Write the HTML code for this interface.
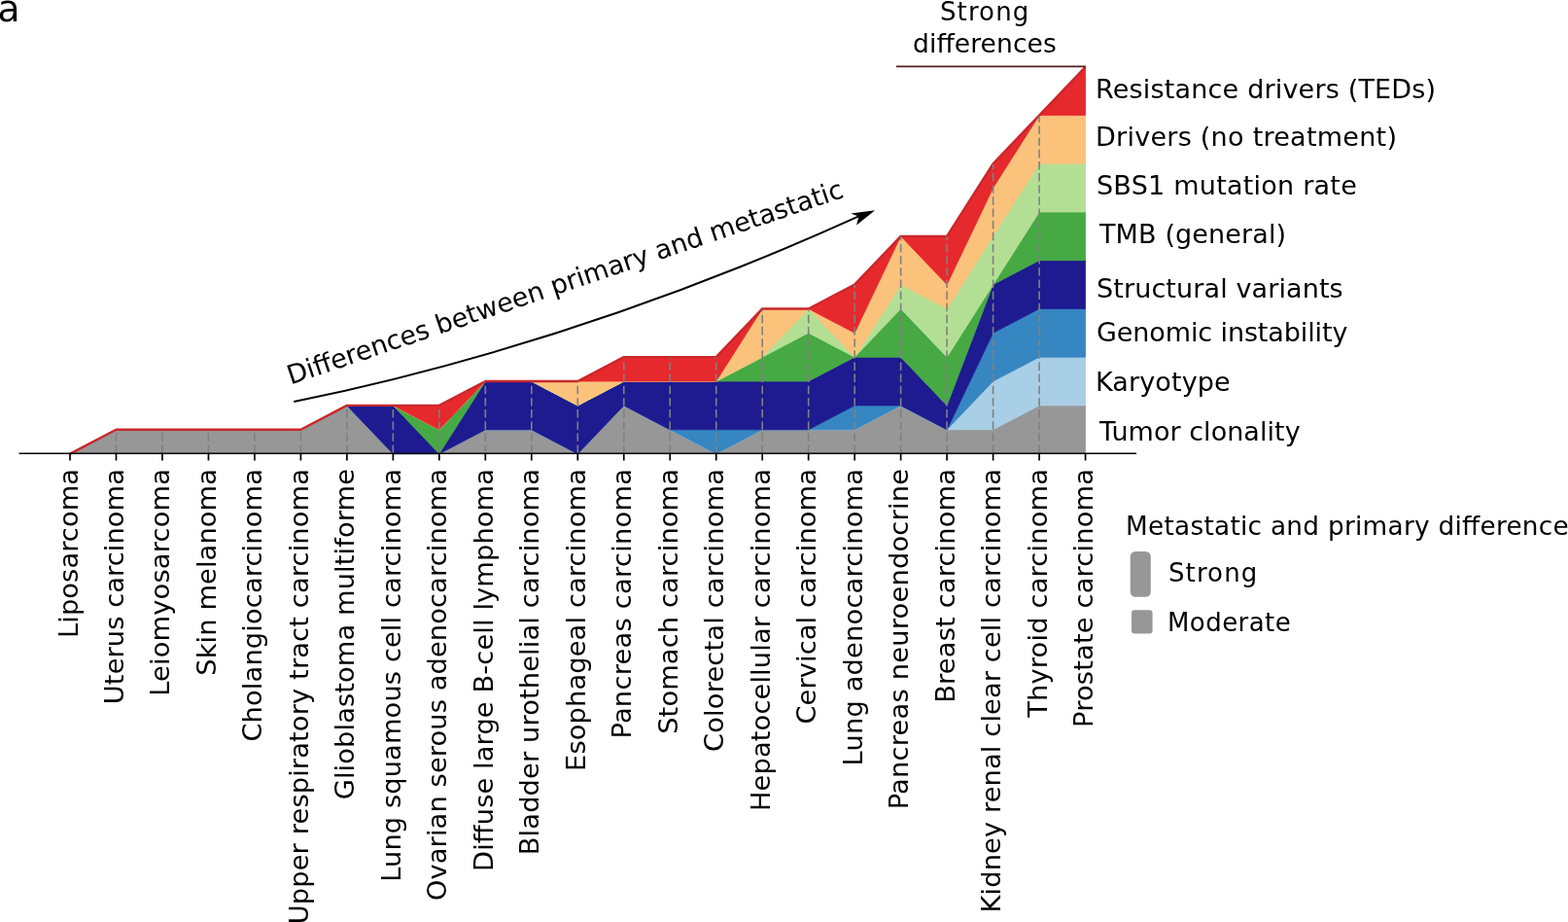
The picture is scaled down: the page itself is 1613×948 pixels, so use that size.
<!DOCTYPE html>
<html><head><meta charset="utf-8"><title>Metastatic vs primary differences</title>
<style>html,body{margin:0;padding:0;background:#fff;overflow:hidden}svg{display:block}text{font-family:'DejaVu Sans', Verdana, sans-serif}</style>
</head><body>
<svg width="1613" height="948" viewBox="0 0 1613 948" font-family="'DejaVu Sans', Verdana, sans-serif" fill="#000">
<polygon points="72.00,466.60 119.48,441.74 166.96,441.74 214.44,441.74 261.92,441.74 309.40,441.74 356.88,416.88 404.36,466.60 451.84,466.60 499.32,441.74 546.80,441.74 594.28,466.60 641.76,416.88 689.24,441.74 736.72,466.60 784.20,441.74 831.68,441.74 879.16,441.74 926.64,416.88 974.12,441.74 1021.60,441.74 1069.08,416.88 1116.56,416.88 1116.56,466.60 1069.08,466.60 1021.60,466.60 974.12,466.60 926.64,466.60 879.16,466.60 831.68,466.60 784.20,466.60 736.72,466.60 689.24,466.60 641.76,466.60 594.28,466.60 546.80,466.60 499.32,466.60 451.84,466.60 404.36,466.60 356.88,466.60 309.40,466.60 261.92,466.60 214.44,466.60 166.96,466.60 119.48,466.60 72.00,466.60" fill="#979797" stroke="#979797" stroke-width="0.8" stroke-linejoin="round"/>
<polygon points="72.00,466.60 119.48,441.74 166.96,441.74 214.44,441.74 261.92,441.74 309.40,441.74 356.88,416.88 404.36,466.60 451.84,466.60 499.32,441.74 546.80,441.74 594.28,466.60 641.76,416.88 689.24,441.74 736.72,466.60 784.20,441.74 831.68,441.74 879.16,441.74 926.64,416.88 974.12,441.74 1021.60,392.02 1069.08,367.16 1116.56,367.16 1116.56,416.88 1069.08,416.88 1021.60,441.74 974.12,441.74 926.64,416.88 879.16,441.74 831.68,441.74 784.20,441.74 736.72,466.60 689.24,441.74 641.76,416.88 594.28,466.60 546.80,441.74 499.32,441.74 451.84,466.60 404.36,466.60 356.88,416.88 309.40,441.74 261.92,441.74 214.44,441.74 166.96,441.74 119.48,441.74 72.00,466.60" fill="#a9cfe6" stroke="#a9cfe6" stroke-width="0.8" stroke-linejoin="round"/>
<polygon points="72.00,466.60 119.48,441.74 166.96,441.74 214.44,441.74 261.92,441.74 309.40,441.74 356.88,416.88 404.36,466.60 451.84,466.60 499.32,441.74 546.80,441.74 594.28,466.60 641.76,416.88 689.24,441.74 736.72,441.74 784.20,441.74 831.68,441.74 879.16,416.88 926.64,416.88 974.12,441.74 1021.60,342.30 1069.08,317.44 1116.56,317.44 1116.56,367.16 1069.08,367.16 1021.60,392.02 974.12,441.74 926.64,416.88 879.16,441.74 831.68,441.74 784.20,441.74 736.72,466.60 689.24,441.74 641.76,416.88 594.28,466.60 546.80,441.74 499.32,441.74 451.84,466.60 404.36,466.60 356.88,416.88 309.40,441.74 261.92,441.74 214.44,441.74 166.96,441.74 119.48,441.74 72.00,466.60" fill="#3686c2" stroke="#3686c2" stroke-width="0.8" stroke-linejoin="round"/>
<polygon points="72.00,466.60 119.48,441.74 166.96,441.74 214.44,441.74 261.92,441.74 309.40,441.74 356.88,416.88 404.36,416.88 451.84,466.60 499.32,392.02 546.80,392.02 594.28,416.88 641.76,392.02 689.24,392.02 736.72,392.02 784.20,392.02 831.68,392.02 879.16,367.16 926.64,367.16 974.12,416.88 1021.60,292.58 1069.08,267.72 1116.56,267.72 1116.56,317.44 1069.08,317.44 1021.60,342.30 974.12,441.74 926.64,416.88 879.16,416.88 831.68,441.74 784.20,441.74 736.72,441.74 689.24,441.74 641.76,416.88 594.28,466.60 546.80,441.74 499.32,441.74 451.84,466.60 404.36,466.60 356.88,416.88 309.40,441.74 261.92,441.74 214.44,441.74 166.96,441.74 119.48,441.74 72.00,466.60" fill="#1e1a90" stroke="#1e1a90" stroke-width="0.8" stroke-linejoin="round"/>
<polygon points="72.00,466.60 119.48,441.74 166.96,441.74 214.44,441.74 261.92,441.74 309.40,441.74 356.88,416.88 404.36,416.88 451.84,441.74 499.32,392.02 546.80,392.02 594.28,416.88 641.76,392.02 689.24,392.02 736.72,392.02 784.20,367.16 831.68,342.30 879.16,367.16 926.64,317.44 974.12,367.16 1021.60,292.58 1069.08,218.00 1116.56,218.00 1116.56,267.72 1069.08,267.72 1021.60,292.58 974.12,416.88 926.64,367.16 879.16,367.16 831.68,392.02 784.20,392.02 736.72,392.02 689.24,392.02 641.76,392.02 594.28,416.88 546.80,392.02 499.32,392.02 451.84,466.60 404.36,416.88 356.88,416.88 309.40,441.74 261.92,441.74 214.44,441.74 166.96,441.74 119.48,441.74 72.00,466.60" fill="#46a944" stroke="#46a944" stroke-width="0.8" stroke-linejoin="round"/>
<polygon points="72.00,466.60 119.48,441.74 166.96,441.74 214.44,441.74 261.92,441.74 309.40,441.74 356.88,416.88 404.36,416.88 451.84,441.74 499.32,392.02 546.80,392.02 594.28,416.88 641.76,392.02 689.24,392.02 736.72,392.02 784.20,367.16 831.68,317.44 879.16,367.16 926.64,292.58 974.12,317.44 1021.60,242.86 1069.08,168.28 1116.56,168.28 1116.56,218.00 1069.08,218.00 1021.60,292.58 974.12,367.16 926.64,317.44 879.16,367.16 831.68,342.30 784.20,367.16 736.72,392.02 689.24,392.02 641.76,392.02 594.28,416.88 546.80,392.02 499.32,392.02 451.84,441.74 404.36,416.88 356.88,416.88 309.40,441.74 261.92,441.74 214.44,441.74 166.96,441.74 119.48,441.74 72.00,466.60" fill="#b3df94" stroke="#b3df94" stroke-width="0.8" stroke-linejoin="round"/>
<polygon points="72.00,466.60 119.48,441.74 166.96,441.74 214.44,441.74 261.92,441.74 309.40,441.74 356.88,416.88 404.36,416.88 451.84,441.74 499.32,392.02 546.80,392.02 594.28,392.02 641.76,392.02 689.24,392.02 736.72,392.02 784.20,317.44 831.68,317.44 879.16,342.30 926.64,242.86 974.12,292.58 1021.60,193.14 1069.08,118.56 1116.56,118.56 1116.56,168.28 1069.08,168.28 1021.60,242.86 974.12,317.44 926.64,292.58 879.16,367.16 831.68,317.44 784.20,367.16 736.72,392.02 689.24,392.02 641.76,392.02 594.28,416.88 546.80,392.02 499.32,392.02 451.84,441.74 404.36,416.88 356.88,416.88 309.40,441.74 261.92,441.74 214.44,441.74 166.96,441.74 119.48,441.74 72.00,466.60" fill="#fbc27c" stroke="#fbc27c" stroke-width="0.8" stroke-linejoin="round"/>
<polygon points="72.00,466.60 119.48,441.74 166.96,441.74 214.44,441.74 261.92,441.74 309.40,441.74 356.88,416.88 404.36,416.88 451.84,416.88 499.32,392.02 546.80,392.02 594.28,392.02 641.76,367.16 689.24,367.16 736.72,367.16 784.20,317.44 831.68,317.44 879.16,292.58 926.64,242.86 974.12,242.86 1021.60,168.28 1069.08,118.56 1116.56,68.84 1116.56,118.56 1069.08,118.56 1021.60,193.14 974.12,292.58 926.64,242.86 879.16,342.30 831.68,317.44 784.20,317.44 736.72,392.02 689.24,392.02 641.76,392.02 594.28,392.02 546.80,392.02 499.32,392.02 451.84,441.74 404.36,416.88 356.88,416.88 309.40,441.74 261.92,441.74 214.44,441.74 166.96,441.74 119.48,441.74 72.00,466.60" fill="#e6292c" stroke="#e6292c" stroke-width="0.8" stroke-linejoin="round"/>
<polyline points="72.00,466.60 119.48,441.74 166.96,441.74 214.44,441.74 261.92,441.74 309.40,441.74 356.88,416.88 404.36,416.88 451.84,416.88 499.32,392.02 546.80,392.02 594.28,392.02 641.76,367.16 689.24,367.16 736.72,367.16 784.20,317.44 831.68,317.44 879.16,292.58 926.64,242.86 974.12,242.86 1021.60,168.28 1069.08,118.56 1116.56,68.84" fill="none" stroke="#c9272c" stroke-width="2.4" stroke-linejoin="round"/>
<line x1="119.48" y1="466.0" x2="119.48" y2="442.24" stroke="#808080" stroke-width="1.6" stroke-dasharray="8.5 3.65"/>
<line x1="166.96" y1="466.0" x2="166.96" y2="442.24" stroke="#808080" stroke-width="1.6" stroke-dasharray="8.5 3.65"/>
<line x1="214.44" y1="466.0" x2="214.44" y2="442.24" stroke="#808080" stroke-width="1.6" stroke-dasharray="8.5 3.65"/>
<line x1="261.92" y1="466.0" x2="261.92" y2="442.24" stroke="#808080" stroke-width="1.6" stroke-dasharray="8.5 3.65"/>
<line x1="309.40" y1="466.0" x2="309.40" y2="442.24" stroke="#808080" stroke-width="1.6" stroke-dasharray="8.5 3.65"/>
<line x1="356.88" y1="466.0" x2="356.88" y2="417.38" stroke="#808080" stroke-width="1.6" stroke-dasharray="8.5 3.65"/>
<line x1="404.36" y1="466.0" x2="404.36" y2="417.38" stroke="#808080" stroke-width="1.6" stroke-dasharray="8.5 3.65"/>
<line x1="451.84" y1="466.0" x2="451.84" y2="417.38" stroke="#808080" stroke-width="1.6" stroke-dasharray="8.5 3.65"/>
<line x1="499.32" y1="466.0" x2="499.32" y2="392.52" stroke="#808080" stroke-width="1.6" stroke-dasharray="8.5 3.65"/>
<line x1="546.80" y1="466.0" x2="546.80" y2="392.52" stroke="#808080" stroke-width="1.6" stroke-dasharray="8.5 3.65"/>
<line x1="594.28" y1="466.0" x2="594.28" y2="392.52" stroke="#808080" stroke-width="1.6" stroke-dasharray="8.5 3.65"/>
<line x1="641.76" y1="466.0" x2="641.76" y2="367.66" stroke="#808080" stroke-width="1.6" stroke-dasharray="8.5 3.65"/>
<line x1="689.24" y1="466.0" x2="689.24" y2="367.66" stroke="#808080" stroke-width="1.6" stroke-dasharray="8.5 3.65"/>
<line x1="736.72" y1="466.0" x2="736.72" y2="367.66" stroke="#808080" stroke-width="1.6" stroke-dasharray="8.5 3.65"/>
<line x1="784.20" y1="466.0" x2="784.20" y2="317.94" stroke="#808080" stroke-width="1.6" stroke-dasharray="8.5 3.65"/>
<line x1="831.68" y1="466.0" x2="831.68" y2="317.94" stroke="#808080" stroke-width="1.6" stroke-dasharray="8.5 3.65"/>
<line x1="879.16" y1="466.0" x2="879.16" y2="293.08" stroke="#808080" stroke-width="1.6" stroke-dasharray="8.5 3.65"/>
<line x1="926.64" y1="466.0" x2="926.64" y2="243.36" stroke="#808080" stroke-width="1.6" stroke-dasharray="8.5 3.65"/>
<line x1="974.12" y1="466.0" x2="974.12" y2="243.36" stroke="#808080" stroke-width="1.6" stroke-dasharray="8.5 3.65"/>
<line x1="1021.60" y1="466.0" x2="1021.60" y2="168.78" stroke="#808080" stroke-width="1.6" stroke-dasharray="8.5 3.65"/>
<line x1="1069.08" y1="466.0" x2="1069.08" y2="119.06" stroke="#808080" stroke-width="1.6" stroke-dasharray="8.5 3.65"/>
<line x1="19.5" y1="466.2" x2="1169" y2="466.2" stroke="#000" stroke-width="1.6"/>
<line x1="72.00" y1="466" x2="72.00" y2="473.5" stroke="#000" stroke-width="1.7"/>
<line x1="119.48" y1="466" x2="119.48" y2="473.5" stroke="#000" stroke-width="1.7"/>
<line x1="166.96" y1="466" x2="166.96" y2="473.5" stroke="#000" stroke-width="1.7"/>
<line x1="214.44" y1="466" x2="214.44" y2="473.5" stroke="#000" stroke-width="1.7"/>
<line x1="261.92" y1="466" x2="261.92" y2="473.5" stroke="#000" stroke-width="1.7"/>
<line x1="309.40" y1="466" x2="309.40" y2="473.5" stroke="#000" stroke-width="1.7"/>
<line x1="356.88" y1="466" x2="356.88" y2="473.5" stroke="#000" stroke-width="1.7"/>
<line x1="404.36" y1="466" x2="404.36" y2="473.5" stroke="#000" stroke-width="1.7"/>
<line x1="451.84" y1="466" x2="451.84" y2="473.5" stroke="#000" stroke-width="1.7"/>
<line x1="499.32" y1="466" x2="499.32" y2="473.5" stroke="#000" stroke-width="1.7"/>
<line x1="546.80" y1="466" x2="546.80" y2="473.5" stroke="#000" stroke-width="1.7"/>
<line x1="594.28" y1="466" x2="594.28" y2="473.5" stroke="#000" stroke-width="1.7"/>
<line x1="641.76" y1="466" x2="641.76" y2="473.5" stroke="#000" stroke-width="1.7"/>
<line x1="689.24" y1="466" x2="689.24" y2="473.5" stroke="#000" stroke-width="1.7"/>
<line x1="736.72" y1="466" x2="736.72" y2="473.5" stroke="#000" stroke-width="1.7"/>
<line x1="784.20" y1="466" x2="784.20" y2="473.5" stroke="#000" stroke-width="1.7"/>
<line x1="831.68" y1="466" x2="831.68" y2="473.5" stroke="#000" stroke-width="1.7"/>
<line x1="879.16" y1="466" x2="879.16" y2="473.5" stroke="#000" stroke-width="1.7"/>
<line x1="926.64" y1="466" x2="926.64" y2="473.5" stroke="#000" stroke-width="1.7"/>
<line x1="974.12" y1="466" x2="974.12" y2="473.5" stroke="#000" stroke-width="1.7"/>
<line x1="1021.60" y1="466" x2="1021.60" y2="473.5" stroke="#000" stroke-width="1.7"/>
<line x1="1069.08" y1="466" x2="1069.08" y2="473.5" stroke="#000" stroke-width="1.7"/>
<line x1="1116.56" y1="466" x2="1116.56" y2="473.5" stroke="#000" stroke-width="1.7"/>
<text transform="translate(79.50,482.00) rotate(-90)" text-anchor="end" font-size="27.3" textLength="173.92" lengthAdjust="spacing">Liposarcoma</text>
<text transform="translate(126.98,482.00) rotate(-90)" text-anchor="end" font-size="27.3" textLength="242.17" lengthAdjust="spacing">Uterus carcinoma</text>
<text transform="translate(174.46,482.00) rotate(-90)" text-anchor="end" font-size="27.3" textLength="233.86" lengthAdjust="spacing">Leiomyosarcoma</text>
<text transform="translate(221.94,482.00) rotate(-90)" text-anchor="end" font-size="27.3" textLength="212.72" lengthAdjust="spacing">Skin melanoma</text>
<text transform="translate(269.42,482.00) rotate(-90)" text-anchor="end" font-size="27.3" textLength="280.56" lengthAdjust="spacing">Cholangiocarcinoma</text>
<text transform="translate(316.90,482.00) rotate(-90)" text-anchor="end" font-size="27.3" textLength="468.26" lengthAdjust="spacing">Upper respiratory tract carcinoma</text>
<text transform="translate(364.38,482.00) rotate(-90)" text-anchor="end" font-size="27.3" textLength="340.28" lengthAdjust="spacing">Glioblastoma multiforme</text>
<text transform="translate(411.86,482.00) rotate(-90)" text-anchor="end" font-size="27.3" textLength="424.83" lengthAdjust="spacing">Lung squamous cell carcinoma</text>
<text transform="translate(459.34,482.00) rotate(-90)" text-anchor="end" font-size="27.3" textLength="444.05" lengthAdjust="spacing">Ovarian serous adenocarcinoma</text>
<text transform="translate(506.82,482.00) rotate(-90)" text-anchor="end" font-size="27.3" textLength="413.95" lengthAdjust="spacing">Diffuse large B-cell lymphoma</text>
<text transform="translate(554.30,482.00) rotate(-90)" text-anchor="end" font-size="27.3" textLength="397.23" lengthAdjust="spacing">Bladder urothelial carcinoma</text>
<text transform="translate(601.78,482.00) rotate(-90)" text-anchor="end" font-size="27.3" textLength="310.91" lengthAdjust="spacing">Esophageal carcinoma</text>
<text transform="translate(649.26,482.00) rotate(-90)" text-anchor="end" font-size="27.3" textLength="277.59" lengthAdjust="spacing">Pancreas carcinoma</text>
<text transform="translate(696.74,482.00) rotate(-90)" text-anchor="end" font-size="27.3" textLength="272.81" lengthAdjust="spacing">Stomach carcinoma</text>
<text transform="translate(744.22,482.00) rotate(-90)" text-anchor="end" font-size="27.3" textLength="290.94" lengthAdjust="spacing">Colorectal carcinoma</text>
<text transform="translate(791.70,482.00) rotate(-90)" text-anchor="end" font-size="27.3" textLength="352.03" lengthAdjust="spacing">Hepatocellular carcinoma</text>
<text transform="translate(839.18,482.00) rotate(-90)" text-anchor="end" font-size="27.3" textLength="262.59" lengthAdjust="spacing">Cervical carcinoma</text>
<text transform="translate(886.66,482.00) rotate(-90)" text-anchor="end" font-size="27.3" textLength="305.45" lengthAdjust="spacing">Lung adenocarcinoma</text>
<text transform="translate(934.14,482.00) rotate(-90)" text-anchor="end" font-size="27.3" textLength="350.36" lengthAdjust="spacing">Pancreas neuroendocrine</text>
<text transform="translate(981.62,482.00) rotate(-90)" text-anchor="end" font-size="27.3" textLength="240.75" lengthAdjust="spacing">Breast carcinoma</text>
<text transform="translate(1029.10,482.00) rotate(-90)" text-anchor="end" font-size="27.3" textLength="456.38" lengthAdjust="spacing">Kidney renal clear cell carcinoma</text>
<text transform="translate(1076.58,482.00) rotate(-90)" text-anchor="end" font-size="27.3" textLength="255.81" lengthAdjust="spacing">Thyroid carcinoma</text>
<text transform="translate(1124.06,482.00) rotate(-90)" text-anchor="end" font-size="27.3" textLength="265.91" lengthAdjust="spacing">Prostate carcinoma</text>
<text x="1127.00" y="100.70" font-size="27" textLength="350.14" lengthAdjust="spacing">Resistance drivers (TEDs)</text>
<text x="1127.00" y="150.40" font-size="27" textLength="309.97" lengthAdjust="spacing">Drivers (no treatment)</text>
<text x="1128.00" y="200.20" font-size="27" textLength="267.78" lengthAdjust="spacing">SBS1 mutation rate</text>
<text x="1131.00" y="250.20" font-size="27" textLength="192.09" lengthAdjust="spacing">TMB (general)</text>
<text x="1128.00" y="305.70" font-size="27" textLength="253.66" lengthAdjust="spacing">Structural variants</text>
<text x="1128.00" y="351.20" font-size="27" textLength="258.42" lengthAdjust="spacing">Genomic instability</text>
<text x="1127.00" y="401.90" font-size="27" textLength="138.70" lengthAdjust="spacing">Karyotype</text>
<text x="1131.00" y="452.50" font-size="27" textLength="206.61" lengthAdjust="spacing">Tumor clonality</text>
<text x="967.00" y="20.60" font-size="26" textLength="91.22" lengthAdjust="spacing">Strong</text>
<text x="939.00" y="54.30" font-size="26.5" textLength="147.84" lengthAdjust="spacing">differences</text>
<text x="1158.00" y="550.20" font-size="26.3" textLength="455.74" lengthAdjust="spacing">Metastatic and primary difference</text>
<text x="1202.00" y="597.50" font-size="26" textLength="91.22" lengthAdjust="spacing">Strong</text>
<text x="1201.00" y="649.00" font-size="26" textLength="126.66" lengthAdjust="spacing">Moderate</text>
<line x1="922" y1="68.4" x2="1116.8" y2="68.4" stroke="#531a1f" stroke-width="1.6"/>
<text x="-2.6" y="22.1" font-size="37.6">a</text>
<path d="M302.3,413.1 Q593.1,353.6 884,222.2" fill="none" stroke="#000" stroke-width="2"/>
<path d="M900.1,216.2 L875.2,219.4 L883.4,222.6 L881.1,231.6 Z" fill="#000"/>
<text transform="translate(299,395.5) rotate(-18.7)" font-size="27" textLength="602.00" lengthAdjust="spacing">Differences between primary and metastatic</text>
<rect x="1162.7" y="567" width="21.1" height="46.8" rx="5.4" fill="#979797"/>
<rect x="1164" y="627.3" width="21.6" height="24.1" rx="3.2" fill="#979797"/>
</svg>
</body></html>
